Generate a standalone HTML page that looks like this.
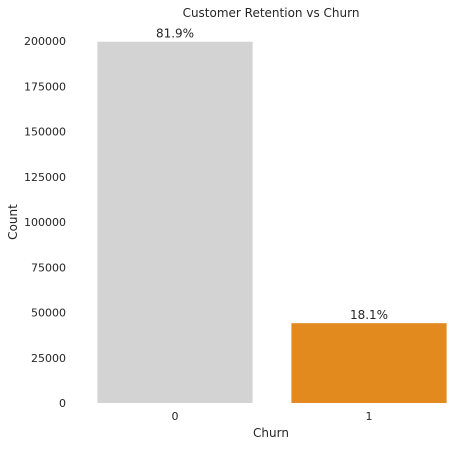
<!DOCTYPE html>
<html><head><meta charset="utf-8"><style>
body{margin:0;background:#fff;}
text{font-family:"DejaVu Sans","Liberation Sans",sans-serif;fill:#262626;}
</style></head><body>
<svg id="chart" width="473" height="447" xmlns="http://www.w3.org/2000/svg">
<text x="271" y="17" font-size="12" text-anchor="middle">Customer Retention vs Churn</text>
<text transform="translate(17,222) rotate(-90)" font-size="12" text-anchor="middle">Count</text>
<text x="271" y="437" font-size="12" text-anchor="middle">Churn</text>
<g id="yticks"></g>
<g id="bars"></g>
</svg>
<script>
const categories = ["0","1"];
const counts = [199600, 44100];
const colors = ["#d3d3d3","#e38a1e"];
const yTicks = [0,25000,50000,75000,100000,125000,150000,175000,200000];
const plotL=78, plotR=466, y0=403, y200=41;
const yScale = v => y0 - (v/200000)*(y0-y200);
const step=(plotR-plotL)/categories.length;
const xCenter = i => plotL + step*(i+0.5);
const NS="http://www.w3.org/2000/svg";
const yt=document.getElementById('yticks');
yTicks.forEach(t=>{
  const e=document.createElementNS(NS,'text');
  
  
  e.setAttribute('x',66);e.setAttribute('y',yScale(t)+4);
  e.setAttribute('font-size','11');e.setAttribute('text-anchor','end');
  e.textContent=t;yt.appendChild(e);
});
const bg=document.getElementById('bars');
const total=counts.reduce((a,b)=>a+b,0);
categories.forEach((c,i)=>{
  const w=step*0.8, x=xCenter(i)-w/2, y=yScale(counts[i]);
  const r=document.createElementNS(NS,'rect');
  
  
  r.setAttribute('x',x);r.setAttribute('y',y);r.setAttribute('width',w);r.setAttribute('height',y0-y);
  r.setAttribute('fill',colors[i]);bg.appendChild(r);
  const l=document.createElementNS(NS,'text');
  
  
  l.setAttribute('x',xCenter(i));l.setAttribute('y',y-4);
  l.setAttribute('font-size','12');l.setAttribute('text-anchor','middle');
  l.textContent=(counts[i]/total*100).toFixed(1)+'%';bg.appendChild(l);
  const t=document.createElementNS(NS,'text');
  
  
  t.setAttribute('x',xCenter(i));t.setAttribute('y',420);
  t.setAttribute('font-size','11');t.setAttribute('text-anchor','middle');
  t.textContent=c;bg.appendChild(t);
});
</script>
</body></html>
